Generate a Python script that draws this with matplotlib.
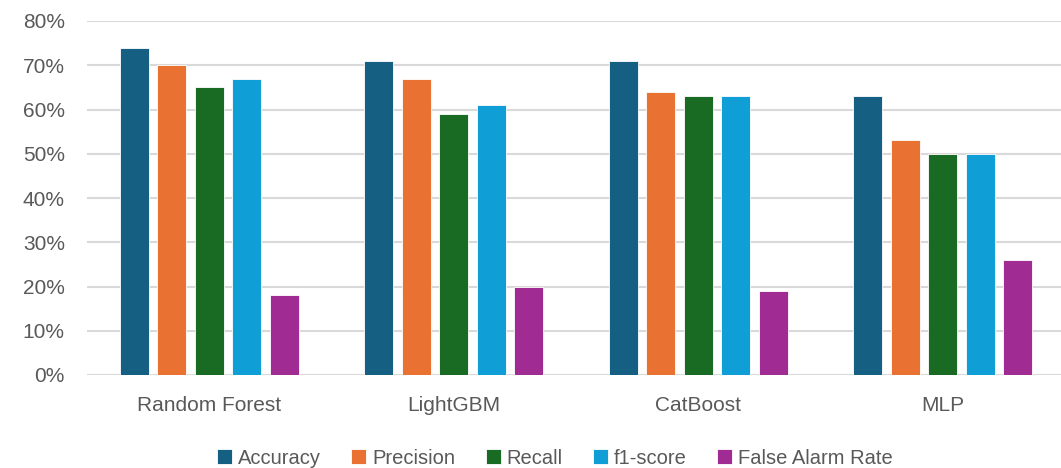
import matplotlib
matplotlib.use("Agg")
import matplotlib.pyplot as plt
import numpy as np
from matplotlib.ticker import PercentFormatter

models = ["Random Forest", "LightGBM", "CatBoost", "MLP"]
metrics = ["Accuracy", "Precision", "Recall", "f1-score", "False Alarm Rate"]
accuracy = [74, 71, 71, 63]
precision = [70, 67, 64, 53]
recall = [65, 59, 63, 50]
f1_score = [67, 61, 63, 50]
false_alarm = [18, 20, 19, 26]
colors = ["#156082", "#E97132", "#196B24", "#0F9ED5", "#A02B93"]

series = [accuracy, precision, recall, f1_score, false_alarm]

plt.rcParams["font.family"] = ["Liberation Sans", "DejaVu Sans"]
fig = plt.figure(figsize=(10.61, 4.68), dpi=100)
ax = fig.add_axes([87 / 1061, 1 - 375 / 468, 978 / 1061, 354 / 468])

x = np.arange(len(models))
width = 0.12
step = 0.1535
for i, (name, vals, c) in enumerate(zip(metrics, series, colors)):
    ax.bar(x + (i - 2) * step, vals, width, color=c, label=name,
           edgecolor="white", linewidth=0.6, zorder=3)

ax.set_xlim(-0.5, len(models) - 0.5)
ax.set_ylim(0, 80)
ax.set_yticks(np.arange(0, 81, 10))
ax.yaxis.set_major_formatter(PercentFormatter(decimals=0))
ax.set_xticks(x)
ax.set_xticklabels(models)
ax.grid(axis="y", color="#D9D9D9", linewidth=1.5, zorder=0)
for s in ax.spines.values():
    s.set_visible(False)
ax.tick_params(axis="both", length=0, labelsize=15, colors="#595959")
ax.tick_params(axis="y", pad=16)
ax.tick_params(axis="x", pad=15)

leg_font = {"family": ["Liberation Sans Narrow", "Liberation Sans", "DejaVu Sans"], "size": 14.5}
ax.legend(loc="center", bbox_to_anchor=(555 / 1061, 1 - 458 / 468),
          bbox_transform=fig.transFigure, ncol=5, frameon=False,
          prop=leg_font, handlelength=0.75, handleheight=0.75,
          handletextpad=0.3, columnspacing=1.5, labelcolor="#595959")

fig.savefig("out.png", dpi=100)
